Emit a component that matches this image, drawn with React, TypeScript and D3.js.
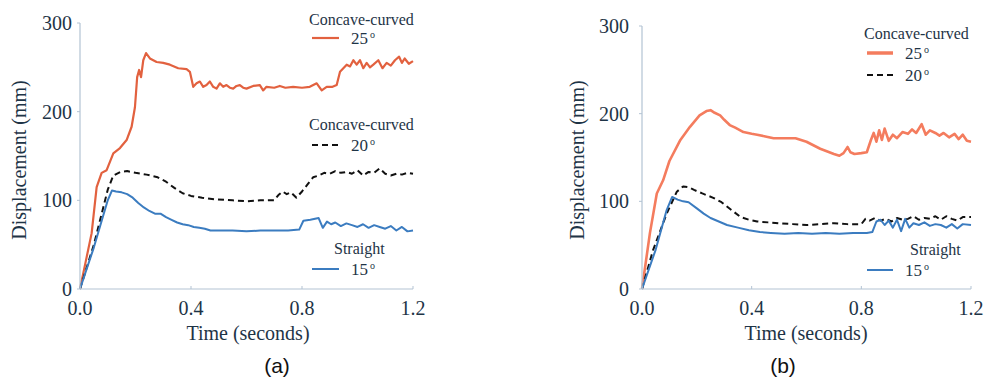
import React from 'react';
import * as d3 from 'd3';

// axis ticks
const timeTicks = [0, 0.4, 0.8, 1.2];
const dispTicks = [0, 100, 200, 300];

// panel (a)
const timeA25 = [0, 0.02, 0.042, 0.06, 0.078, 0.096, 0.12, 0.144, 0.168, 0.186, 0.198, 0.206, 0.213, 0.22, 0.228, 0.238, 0.252, 0.276, 0.3, 0.324, 0.354, 0.384, 0.396, 0.408, 0.42, 0.432, 0.444, 0.456, 0.468, 0.48, 0.492, 0.504, 0.516, 0.528, 0.54, 0.552, 0.564, 0.576, 0.588, 0.6, 0.624, 0.648, 0.66, 0.672, 0.7, 0.72, 0.74, 0.768, 0.8, 0.828, 0.853, 0.871, 0.889, 0.91, 0.925, 0.937, 0.949, 0.961, 0.973, 0.985, 0.997, 1.009, 1.021, 1.033, 1.045, 1.057, 1.075, 1.09, 1.105, 1.12, 1.135, 1.15, 1.16, 1.17, 1.185, 1.2];
const dispA25 = [0, 30, 63, 115, 131, 134, 153, 159, 168, 183, 205, 239, 247, 239, 258, 266, 260, 256, 255, 253, 249, 248, 245, 228, 232, 234, 228, 230, 234, 228, 226, 232, 228, 230, 227, 226, 229, 230, 227, 226, 229, 230, 224, 228, 227, 229, 227, 228, 227, 228, 232, 224, 228, 228, 230, 245, 249, 253, 251, 258, 253, 258, 249, 255, 250, 253, 258, 249, 255, 252, 258, 262, 255, 260, 254, 257];

const timeA20 = [0, 0.05, 0.1, 0.12, 0.145, 0.17, 0.2, 0.24, 0.28, 0.31, 0.34, 0.37, 0.4, 0.44, 0.49, 0.55, 0.6, 0.65, 0.7, 0.715, 0.73, 0.745, 0.76, 0.78, 0.8, 0.82, 0.84, 0.86, 0.88, 0.9, 0.92, 0.94, 0.96, 0.98, 1.0, 1.02, 1.04, 1.06, 1.08, 1.1, 1.12, 1.14, 1.16, 1.18, 1.2];
const dispA20 = [0, 50, 112, 128, 132, 133, 131, 129, 126, 121, 114, 108, 105, 103, 101, 100, 99, 100, 100, 106, 110, 107, 109, 103, 110, 118, 126, 128, 131, 130, 133, 131, 132, 130, 134, 128, 132, 131, 136, 130, 128, 130, 129, 131, 130];

const timeA15 = [0, 0.05, 0.1, 0.115, 0.13, 0.15, 0.17, 0.19, 0.21, 0.23, 0.25, 0.27, 0.29, 0.31, 0.33, 0.35, 0.37, 0.39, 0.41, 0.43, 0.45, 0.47, 0.5, 0.55, 0.6, 0.65, 0.7, 0.75, 0.79, 0.805, 0.83, 0.86, 0.875, 0.89, 0.905, 0.92, 0.94, 0.96, 0.98, 1.0, 1.02, 1.04, 1.06, 1.08, 1.1, 1.12, 1.14, 1.16, 1.18, 1.2];
const dispA15 = [0, 47, 100, 111, 110, 109, 107, 103, 97, 92, 88, 85, 85, 81, 78, 75, 73, 72, 70, 69, 68, 66, 66, 66, 65, 66, 66, 66, 67, 77, 78, 80, 69, 76, 73, 75, 71, 74, 72, 70, 73, 69, 72, 70, 68, 71, 66, 70, 65, 66];

// panel (b)
const timeB25 = [0, 0.029, 0.054, 0.077, 0.1, 0.14, 0.175, 0.21, 0.235, 0.25, 0.265, 0.285, 0.3, 0.32, 0.34, 0.37, 0.4, 0.42, 0.45, 0.48, 0.52, 0.56, 0.6, 0.65, 0.7, 0.72, 0.735, 0.75, 0.76, 0.775, 0.8, 0.82, 0.835, 0.845, 0.855, 0.865, 0.875, 0.885, 0.9, 0.915, 0.93, 0.95, 0.97, 0.985, 1.0, 1.02, 1.035, 1.05, 1.07, 1.085, 1.1, 1.12, 1.14, 1.155, 1.17, 1.185, 1.2];
const dispB25 = [0, 64, 109, 124, 146, 170, 185, 198, 203, 204, 201, 198, 193, 187, 184, 179, 177, 176, 174, 172, 172, 172, 168, 160, 154, 152, 155, 162, 156, 154, 155, 156, 170, 178, 168, 181, 170, 183, 169, 176, 172, 179, 177, 182, 178, 188, 176, 181, 178, 175, 178, 173, 177, 171, 176, 169, 168];

const timeB20 = [0, 0.04, 0.09, 0.127, 0.15, 0.17, 0.19, 0.22, 0.26, 0.29, 0.31, 0.335, 0.36, 0.39, 0.42, 0.46, 0.5, 0.55, 0.6, 0.65, 0.7, 0.75, 0.8, 0.815, 0.83, 0.85, 0.87, 0.89, 0.91, 0.93, 0.95, 0.97, 0.99, 1.01, 1.03, 1.05, 1.07, 1.09, 1.11, 1.13, 1.15, 1.17, 1.2];
const dispB20 = [0, 44, 86, 111, 117, 116, 113, 109, 104, 99, 94, 88, 82, 79, 77, 76, 75, 74, 73, 74, 75, 74, 74, 80, 78, 81, 78, 80, 77, 81, 79, 80, 83, 79, 81, 80, 83, 79, 83, 80, 78, 82, 82];

const timeB15 = [0, 0.05, 0.09, 0.11, 0.13, 0.15, 0.17, 0.2, 0.225, 0.25, 0.28, 0.31, 0.35, 0.39, 0.43, 0.47, 0.52, 0.57, 0.62, 0.67, 0.72, 0.77, 0.82, 0.84, 0.855, 0.87, 0.885, 0.9, 0.915, 0.93, 0.945, 0.96, 0.975, 0.99, 1.01, 1.03, 1.05, 1.07, 1.09, 1.11, 1.13, 1.15, 1.17, 1.2];
const dispB15 = [0, 45, 90, 105, 102, 100, 99, 92, 86, 81, 77, 73, 70, 67, 65, 64, 63, 64, 63, 64, 63, 64, 64, 65, 77, 79, 73, 78, 70, 79, 66, 80, 70, 75, 73, 76, 72, 74, 73, 70, 74, 69, 74, 73];

const serif = "'Liberation Serif', 'DejaVu Serif', serif";
const sans = "'Liberation Sans', Arial, sans-serif";
const textColor = '#1e3446';
const axisColor = '#b3c3d3';
const blue = '#3b7cc0';

type Series = { t: number[]; v: number[]; color: string; width: number; dash?: string };
type LegendItem = { title?: string; titleY?: number; lineY: number; label: string; color: string; width: number; dash?: string };

function Deg({ x, y, value }: { x: number; y: number; value: string }) {
  return (
    <text x={x} y={y} style={{ fontFamily: serif, fontSize: 17 }} fill={textColor}>
      {value}
      <tspan style={{ fontSize: 10 }} dx={2} dy={-6}>o</tspan>
    </text>
  );
}

function Panel(props: {
  x0: number; x1: number; yTop: number; yBot: number;
  tickGap: number; yTitleX: number; xTitleX: number; capX: number; cap: string;
  series: Series[]; legend: LegendItem[]; legendX: number; legendLen: number;
}) {
  const { x0, x1, yTop, yBot, series, legend } = props;
  const x = d3.scaleLinear().domain([0, 1.2]).range([x0, x1]);
  const y = d3.scaleLinear().domain([0, 300]).range([yBot, yTop]);
  const line = d3.line<[number, number]>().x(d => x(d[0])).y(d => y(d[1]));
  const serifStyle = { fontFamily: serif, fontSize: 20 };
  return (
    <g>
      {series.map((s, i) => (
        <path key={i} d={line(s.t.map((t, j) => [t, s.v[j]] as [number, number])) || ''}
          fill="none" stroke={s.color} strokeWidth={s.width} strokeDasharray={s.dash}
          strokeLinejoin="round" strokeLinecap="butt" />
      ))}
      <line x1={x0} x2={x0} y1={yTop} y2={yBot} stroke={axisColor} strokeWidth={1.2} />
      <line x1={x0} x2={x1} y1={yBot} y2={yBot} stroke={axisColor} strokeWidth={1.2} />
      {dispTicks.map(d => (
        <g key={d}>
          <line x1={x0 - 3} x2={x0} y1={y(d)} y2={y(d)} stroke={axisColor} />
          <text x={x0 - props.tickGap} y={y(d) + 7} textAnchor="end" style={serifStyle} fill={textColor}>{d}</text>
        </g>
      ))}
      {timeTicks.map(t => (
        <g key={t}>
          <line x1={x(t)} x2={x(t)} y1={yBot} y2={yBot - 3} stroke={axisColor} />
          <text x={x(t)} y={yBot + 26} textAnchor="middle" style={serifStyle} fill={textColor}>{t.toFixed(1)}</text>
        </g>
      ))}
      <text transform={`translate(${props.yTitleX},160) rotate(-90)`} textAnchor="middle" style={serifStyle} fill={textColor}>Displacement (mm)</text>
      <text x={props.xTitleX} y={340} textAnchor="middle" style={serifStyle} fill={textColor}>Time (seconds)</text>
      <text x={props.capX} y={373} textAnchor="middle" style={{ fontFamily: sans, fontSize: 21 }} fill="#111">{props.cap}</text>
      {legend.map((l, i) => (
        <g key={i}>
          {l.title && <text x={props.legendX - 3} y={l.titleY} style={{ fontFamily: serif, fontSize: 16 }} fill={textColor}>{l.title}</text>}
          <line x1={props.legendX} x2={props.legendX + props.legendLen} y1={l.lineY} y2={l.lineY} stroke={l.color} strokeWidth={l.width} strokeDasharray={l.dash} />
          <Deg x={props.legendX + props.legendLen + 12} y={l.lineY + 6} value={l.label} />
        </g>
      ))}
    </g>
  );
}

export default function App() {
  const orangeA = '#e2613f';
  const orangeB = '#f47c5e';
  const dash = '6,4';
  return (
    <svg width={986} height={382} style={{ position: 'absolute', left: 0, top: 0, background: '#fff' }}>
      <Panel x0={80} x1={413} yTop={23} yBot={289} tickGap={8} yTitleX={26} xTitleX={248} capX={277} cap="(a)"
        series={[
          { t: timeA25, v: dispA25, color: orangeA, width: 2.2 },
          { t: timeA20, v: dispA20, color: '#111', width: 2, dash },
          { t: timeA15, v: dispA15, color: blue, width: 2 },
        ]}
        legendX={312} legendLen={27}
        legend={[
          { title: 'Concave-curved', titleY: 25, lineY: 38, label: '25', color: orangeA, width: 2.2 },
          { title: 'Concave-curved', titleY: 130, lineY: 145, label: '20', color: '#111', width: 2, dash },
          { lineY: 269, label: '15', color: blue, width: 2 },
        ]} />
      <Panel x0={642} x1={971} yTop={26} yBot={289} tickGap={13} yTitleX={584} xTitleX={806} capX={783} cap="(b)"
        series={[
          { t: timeB25, v: dispB25, color: orangeB, width: 2.6 },
          { t: timeB20, v: dispB20, color: '#111', width: 2, dash },
          { t: timeB15, v: dispB15, color: blue, width: 2 },
        ]}
        legendX={867} legendLen={26}
        legend={[
          { title: 'Concave-curved', titleY: 39, lineY: 53, label: '25', color: orangeB, width: 3.5 },
          { lineY: 75, label: '20', color: '#111', width: 2, dash },
          { lineY: 270, label: '15', color: blue, width: 2 },
        ]} />
      <text x={334} y={254} style={{ fontFamily: serif, fontSize: 16 }} fill={textColor}>Straight</text>
      <text x={910} y={255} style={{ fontFamily: serif, fontSize: 16 }} fill={textColor}>Straight</text>
    </svg>
  );
}
